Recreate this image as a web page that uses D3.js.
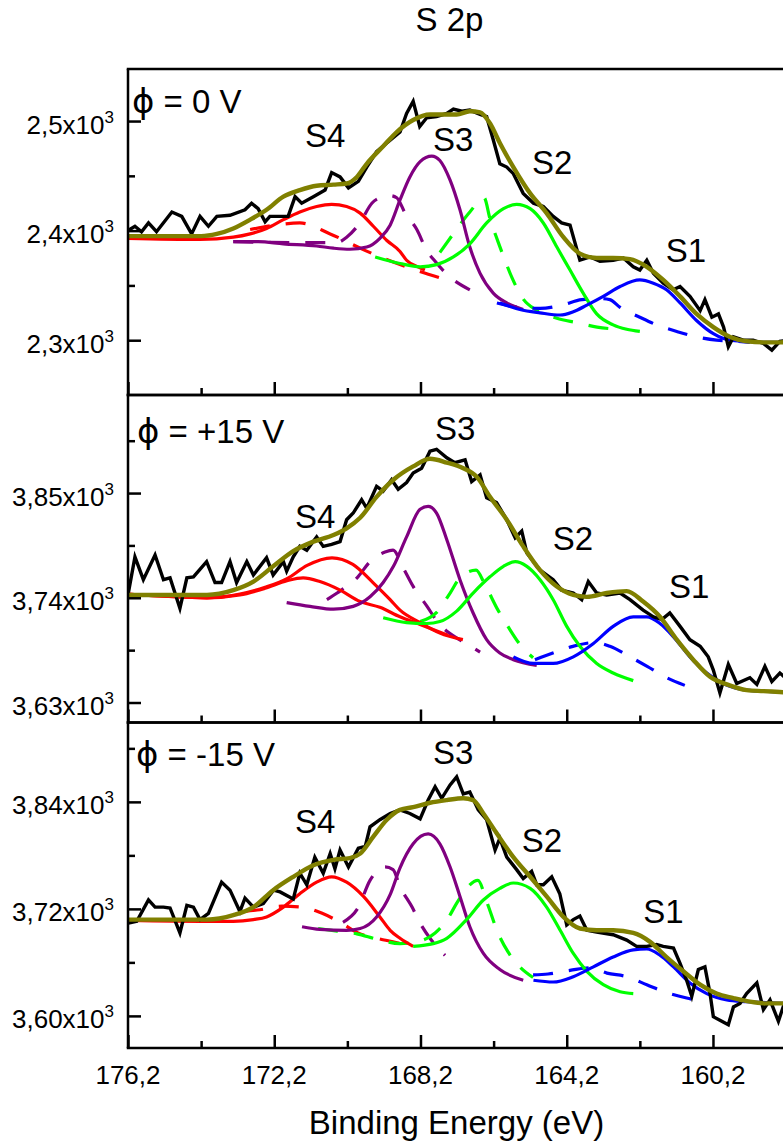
<!DOCTYPE html>
<html>
<head>
<meta charset="utf-8">
<script src="https://cdn.jsdelivr.net/npm/d3@7"></script>
<style>
  html, body { margin: 0; padding: 0; background: #fff; }
  svg { display: block; }
  text { font-family: "Liberation Sans", Arial, Helvetica, "DejaVu Sans", sans-serif; fill: #000; }
</style>
</head>
<body>
<svg id="chart" width="783" height="1145"></svg>
<script>
// ---------- S 2p spectra: [binding energy (eV), counts] ----------

// phi = 0 V
const spectrum0V = [[176.2,2400],[176.01,2404],[175.83,2399],[175.64,2407],[175.42,2399],[175.0,2417],[174.73,2413],[174.46,2397],[174.23,2413],[174.0,2404],[173.77,2413],[173.41,2414],[173.0,2419],[172.82,2425],[172.64,2420],[172.45,2408],[172.32,2413],[172.04,2413],[171.82,2413],[171.63,2431],[171.45,2425],[171.13,2431],[170.81,2437],[170.63,2453],[170.4,2449],[170.17,2439],[169.9,2445],[169.67,2458],[169.4,2472],[169.12,2480],[168.76,2490],[168.58,2507],[168.4,2518],[168.22,2495],[168.03,2503],[167.76,2504],[167.48,2507],[167.3,2511],[167.07,2509],[166.85,2510],[166.57,2506],[166.39,2504],[166.21,2483],[166.03,2461],[165.84,2458],[165.66,2452],[165.39,2434],[165.11,2425],[164.84,2422],[164.57,2413],[164.34,2407],[164.11,2405],[163.84,2373],[163.56,2376],[163.29,2372],[162.93,2373],[162.65,2375],[162.38,2367],[162.2,2364],[162.01,2373],[161.83,2361],[161.56,2352],[161.29,2346],[161.1,2349],[160.83,2340],[160.55,2327],[160.42,2337],[160.23,2321],[160.05,2324],[159.91,2312],[159.78,2294],[159.64,2303],[159.37,2300],[159.1,2300],[158.82,2297],[158.59,2291],[158.37,2299],[158.1,2300]];
const envelope0V = [[176.2,2395],[174.2,2395],[173.77,2397],[173.32,2402],[172.86,2410],[172.41,2419],[171.95,2431],[171.5,2437],[171.04,2441],[170.58,2442],[170.22,2443],[169.94,2449],[169.67,2461],[169.22,2477],[168.85,2490],[168.4,2501],[167.94,2506],[167.48,2506],[167.21,2506],[166.85,2509],[166.57,2508],[166.3,2498],[166.03,2480],[165.66,2458],[165.2,2434],[164.75,2416],[164.29,2394],[163.84,2379],[163.38,2375],[162.93,2375],[162.47,2374],[162.01,2367],[161.56,2355],[161.1,2340],[160.65,2324],[160.19,2312],[159.73,2303],[159.28,2299],[158.82,2298],[158.37,2298],[157.96,2299]];
const s4Fit0V = [[176.2,2393],[174.23,2392],[173.32,2394],[172.86,2397],[172.41,2402],[171.95,2410],[171.5,2417],[171.04,2422],[170.63,2424],[170.22,2422],[169.85,2416],[169.49,2404],[169.12,2391],[168.76,2381],[168.58,2373],[168.21,2366],[168.08,2364]];
const s4Base0V = [[172.86,2401],[172.18,2405],[171.5,2407],[170.67,2397],[169.72,2382],[168.76,2369],[167.58,2356]];
const s3Fit0V = [[173.32,2390],[172.64,2390],[171.95,2388],[171.04,2386],[170.58,2384],[170.13,2383],[169.67,2385],[169.31,2393],[169.03,2405],[168.76,2428],[168.49,2449],[168.21,2463],[167.89,2468],[167.67,2464],[167.39,2446],[167.12,2419],[166.85,2385],[166.57,2361],[166.21,2343],[165.84,2334],[165.39,2328]];
const s3Base0V = [[173.32,2390],[171.5,2389],[170.5,2389],[170.22,2394],[169.86,2407],[169.53,2425],[169.2,2431],[169.03,2432],[168.85,2430],[168.62,2416],[168.3,2401],[168.03,2382],[167.8,2372],[167.44,2359],[166.85,2346]];
const s2Fit0V = [[169.44,2376],[168.76,2370],[168.21,2367],[167.76,2369],[167.3,2376],[166.85,2388],[166.39,2407],[165.93,2420],[165.57,2424],[165.2,2420],[164.84,2407],[164.47,2385],[164.11,2364],[163.75,2343],[163.38,2324],[162.93,2314],[162.56,2310],[162.2,2308]];
const s2Base0V = [[167.67,2380],[167.26,2399],[166.85,2417],[166.46,2430],[166.3,2411],[166.08,2390],[165.89,2373],[165.67,2355],[165.42,2339],[165.01,2327],[164.47,2320],[163.92,2316],[163.37,2312],[162.83,2310]];
const s1Fit0V = [[166.03,2334],[165.48,2328],[164.93,2325],[164.38,2323],[164.02,2326],[163.65,2332],[163.2,2340],[162.74,2349],[162.2,2355],[161.83,2352],[161.47,2346],[161.1,2334],[160.65,2318],[160.19,2306],[159.73,2300],[159.28,2299],[158.82,2298],[158.09,2298]];
const s1Base0V = [[166.11,2334],[165.48,2330],[164.93,2329],[164.34,2332],[163.79,2337],[163.29,2338],[163.02,2337],[162.74,2330],[162.2,2321],[161.74,2314],[161.19,2308],[160.65,2303],[160.1,2300],[159.55,2299],[159.19,2298]];

// phi = +15 V
const spectrumP15 = [[176.19,3745],[176.01,3783],[175.78,3759],[175.46,3785],[175.23,3759],[175.05,3761],[174.78,3729],[174.59,3761],[174.41,3762],[174.05,3778],[173.82,3756],[173.64,3756],[173.41,3778],[173.23,3756],[172.95,3778],[172.77,3764],[172.41,3782],[172.23,3764],[171.95,3778],[171.86,3768],[171.68,3783],[171.5,3794],[171.31,3790],[171.04,3804],[170.86,3794],[170.63,3796],[170.4,3799],[170.22,3822],[170.04,3829],[169.81,3843],[169.67,3834],[169.4,3857],[169.22,3852],[168.99,3864],[168.81,3854],[168.58,3861],[168.4,3871],[168.17,3876],[167.94,3894],[167.76,3896],[167.48,3887],[167.26,3882],[166.98,3885],[166.8,3862],[166.57,3869],[166.39,3845],[166.12,3840],[165.84,3822],[165.61,3803],[165.43,3810],[165.29,3787],[164.93,3769],[164.57,3759],[164.34,3748],[164.02,3745],[163.79,3738],[163.61,3757],[163.38,3745],[163.11,3743],[162.74,3745],[162.47,3738],[162.11,3727],[161.83,3720],[161.6,3717],[161.38,3724],[161.1,3710],[160.83,3696],[160.55,3689],[160.33,3678],[160.19,3664],[160.01,3640],[159.78,3670],[159.55,3650],[159.19,3656],[159.0,3649],[158.78,3668],[158.59,3652],[158.37,3661],[158.1,3652]];
const envelopeP15 = [[176.2,3743],[174.04,3743],[173.32,3748],[172.77,3757],[172.23,3773],[171.68,3789],[171.13,3799],[170.58,3806],[170.22,3813],[169.85,3824],[169.4,3846],[168.94,3864],[168.4,3878],[167.94,3886],[167.48,3882],[167.03,3876],[166.66,3867],[166.3,3846],[165.84,3822],[165.39,3794],[164.93,3769],[164.48,3752],[164.02,3743],[163.65,3741],[163.11,3745],[162.56,3747],[162.11,3736],[161.65,3720],[161.19,3696],[160.74,3675],[160.28,3657],[159.82,3649],[159.28,3643],[158.82,3642],[158.37,3641],[157.96,3640]];
const s4FitP15 = [[176.2,3744],[174.04,3740],[173.14,3744],[172.45,3751],[171.85,3760],[171.3,3774],[170.62,3782],[170.05,3775],[169.5,3756],[169.03,3738],[168.76,3727],[168.21,3714],[167.67,3703],[167.04,3696]];
const s4bFitP15 = [[176.2,3744],[174.04,3740],[173.14,3743],[172.45,3750],[171.85,3758],[171.41,3761],[170.95,3757],[170.4,3748],[169.85,3736],[169.31,3730],[168.76,3720],[168.21,3712],[167.47,3701]];
const s3FitP15 = [[171.86,3735],[171.22,3731],[170.58,3728],[170.04,3731],[169.58,3741],[169.22,3756],[168.94,3773],[168.58,3804],[168.21,3833],[167.99,3836],[167.76,3829],[167.48,3801],[167.12,3759],[166.76,3724],[166.39,3696],[166.03,3682],[165.66,3675],[165.02,3669]];
const s3BaseP15 = [[170.76,3738],[170.48,3745],[169.91,3762],[169.58,3778],[169.17,3788],[168.95,3790],[168.68,3772],[168.4,3752],[168.02,3731],[167.72,3714],[167.45,3704],[166.9,3691],[166.57,3683]];
const s2FitP15 = [[169.22,3719],[168.58,3714],[168.03,3713],[167.67,3715],[167.21,3726],[166.76,3745],[166.3,3762],[165.93,3773],[165.61,3778],[165.29,3773],[164.93,3759],[164.57,3738],[164.2,3710],[163.84,3689],[163.38,3671],[162.93,3661],[162.38,3653]];
const s2BaseP15 = [[168.21,3715],[167.75,3725],[167.39,3745],[167.12,3761],[166.68,3769],[166.44,3754],[166.08,3727],[165.81,3710],[165.48,3691],[165.12,3677]];
const s1FitP15 = [[165.66,3678],[165.11,3671],[164.57,3671],[164.02,3678],[163.47,3692],[162.93,3710],[162.38,3720],[162.01,3720],[161.65,3713],[161.28,3699],[160.83,3678],[160.37,3661],[159.92,3650],[159.28,3643],[158.37,3641],[157.96,3640]];
const s1BaseP15 = [[165.07,3675],[164.58,3682],[164.03,3689],[163.43,3693],[163.02,3689],[162.47,3678],[162.0,3668],[161.46,3656],[160.97,3648]];

// phi = -15 V
const spectrumM15 = [[176.19,3704],[175.96,3706],[175.64,3730],[175.46,3722],[175.23,3722],[175.05,3721],[174.78,3693],[174.59,3724],[174.41,3722],[174.23,3708],[174.0,3715],[173.64,3750],[173.41,3741],[173.14,3717],[173.0,3732],[172.77,3722],[172.5,3726],[172.22,3741],[172.04,3739],[171.68,3731],[171.5,3760],[171.31,3747],[171.09,3778],[170.86,3760],[170.67,3782],[170.54,3765],[170.4,3786],[170.17,3767],[169.9,3788],[169.71,3790],[169.58,3812],[169.31,3820],[169.03,3827],[168.76,3831],[168.49,3827],[168.21,3821],[167.99,3842],[167.8,3857],[167.62,3844],[167.39,3859],[167.21,3868],[167.03,3849],[166.85,3851],[166.62,3831],[166.39,3820],[166.16,3786],[166.03,3799],[165.84,3778],[165.57,3764],[165.39,3754],[165.16,3762],[165.02,3747],[164.84,3747],[164.61,3756],[164.39,3737],[164.2,3702],[164.02,3708],[163.84,3712],[163.65,3696],[163.38,3694],[162.93,3691],[162.56,3685],[162.29,3678],[162.01,3678],[161.74,3680],[161.56,3678],[161.28,3676],[161.1,3659],[160.92,3640],[160.78,3622],[160.6,3652],[160.42,3655],[160.28,3625],[160.19,3599],[160.01,3595],[159.78,3590],[159.64,3610],[159.46,3614],[159.28,3625],[159.0,3637],[158.82,3607],[158.64,3618],[158.41,3594],[158.28,3610],[158.1,3600]];
const envelopeM15 = [[176.2,3708],[174.04,3708],[173.32,3713],[172.77,3722],[172.23,3741],[171.68,3756],[171.13,3769],[170.58,3775],[170.13,3777],[169.85,3782],[169.49,3801],[169.12,3820],[168.76,3831],[168.4,3834],[167.94,3839],[167.48,3842],[167.03,3844],[166.76,3842],[166.48,3827],[166.12,3805],[165.66,3778],[165.2,3756],[164.75,3734],[164.29,3711],[163.84,3698],[163.38,3696],[162.93,3696],[162.38,3693],[161.92,3683],[161.47,3666],[161.01,3650],[160.55,3635],[160.1,3625],[159.64,3620],[159.19,3616],[158.73,3614],[158.28,3614],[157.96,3613]];
const s4FitM15 = [[176.2,3707],[174.05,3706],[173.32,3706],[172.77,3708],[172.41,3711],[171.95,3722],[171.5,3737],[171.04,3750],[170.63,3756],[170.22,3750],[169.76,3734],[169.31,3711],[169.03,3696],[168.76,3687],[168.4,3678]];
const s4BaseM15 = [[173.05,3717],[172.59,3719],[171.99,3723],[171.44,3722],[170.89,3715],[170.4,3705],[169.91,3693],[169.39,3687],[168.84,3682],[168.4,3677]];
const s3FitM15 = [[171.44,3700],[170.95,3697],[170.22,3696],[169.85,3698],[169.4,3711],[169.03,3736],[168.76,3766],[168.4,3793],[167.99,3804],[167.67,3793],[167.39,3767],[167.12,3734],[166.85,3700],[166.48,3670],[166.03,3652],[165.39,3640]];
const s3BaseM15 = [[170.32,3705],[169.91,3721],[169.58,3752],[169.17,3767],[168.95,3764],[168.76,3745],[168.43,3722],[168.21,3704],[167.94,3687],[167.53,3668]];
const s2FitM15 = [[168.4,3678],[167.85,3681],[167.48,3687],[166.94,3708],[166.48,3730],[166.03,3743],[165.66,3749],[165.2,3743],[164.75,3722],[164.38,3696],[164.02,3670],[163.65,3650],[163.2,3635],[162.74,3627],[162.38,3625]];
const s2BaseM15 = [[171.0,3698],[170.48,3695],[169.94,3692],[169.39,3686],[168.76,3681],[168.21,3684],[167.8,3693],[167.47,3708],[167.2,3727],[166.9,3745],[166.63,3752],[166.38,3727],[166.08,3693],[165.81,3672],[165.53,3657],[165.12,3643]];
const s1FitM15 = [[165.11,3640],[164.57,3638],[164.02,3644],[163.47,3655],[162.93,3666],[162.38,3674],[162.01,3675],[161.65,3668],[161.28,3655],[160.83,3637],[160.37,3625],[159.82,3618],[159.28,3616],[158.28,3614],[157.96,3613]];
const s1BaseM15 = [[165.12,3646],[164.71,3647],[164.11,3651],[163.56,3654],[163.1,3648],[162.56,3644],[162.01,3635],[161.46,3626],[160.92,3620],[160.42,3616]];

// Axis extents and tick values
const energyDomain = [176.2, 158.0];
const energyMajorTicks = [176.2, 172.2, 168.2, 164.2, 160.2];
const energyMinorTicks = [174.2, 170.2, 166.2, 162.2, 158.2];

const countDomain0V = [2250, 2547.5];
const countMajor0V = [2300, 2400, 2500];
const countMinor0V = [2350, 2450];
const countDomainP15 = [3609, 3953];
const countMajorP15 = [3630, 3740, 3850];
const countMinorP15 = [3685, 3795, 3905];
const countDomainM15 = [3564, 3929];
const countMajorM15 = [3600, 3720, 3840];
const countMinorM15 = [3660, 3780, 3900];

const biasValues = ["= 0 V", "= +15 V", "= -15 V"];
const peakNames = ["S1", "S2", "S3", "S4"];
// anchor (energy, counts) of each peak name, S1..S4
const peakLabelAt0V  = [[161.49,2371],[165.15,2452],[167.86,2473],[171.36,2476]];
const peakLabelAtP15 = [[161.40,3740],[164.58,3790],[167.80,3906],[171.63,3813]];
const peakLabelAtM15 = [[162.11,3704],[165.43,3784],[167.86,3883],[171.63,3805]];

// ---------- layout ----------
const COLORS = { red: "#ff0000", purple: "#800080", green: "#00ff00", blue: "#0000ff", olive: "#808000" };
const plotLeft = 128, plotRight = 793.4;
const panelEdges = [[69, 395], [395, 722.5], [722.5, 1048]];

const panels = [
  { domain: countDomain0V, major: countMajor0V, minor: countMinor0V, decimals: 1,
    spectrum: spectrum0V, envelope: envelope0V, bias: biasValues[0], labelX: 132, labelDy: 44,
    peakLabels: peakLabelAt0V,
    bases: [[s4Base0V, COLORS.red], [s3Base0V, COLORS.purple], [s2Base0V, COLORS.green], [s1Base0V, COLORS.blue]],
    fits: [[s4Fit0V, COLORS.red], [s3Fit0V, COLORS.purple], [s2Fit0V, COLORS.green], [s1Fit0V, COLORS.blue]] },
  { domain: countDomainP15, major: countMajorP15, minor: countMinorP15, decimals: 2,
    spectrum: spectrumP15, envelope: envelopeP15, bias: biasValues[1], labelX: 137, labelDy: 48,
    peakLabels: peakLabelAtP15,
    bases: [[s3BaseP15, COLORS.purple], [s2BaseP15, COLORS.green], [s1BaseP15, COLORS.blue]],
    fits: [[s4bFitP15, COLORS.red], [s4FitP15, COLORS.red], [s3FitP15, COLORS.purple], [s2FitP15, COLORS.green], [s1FitP15, COLORS.blue]] },
  { domain: countDomainM15, major: countMajorM15, minor: countMinorM15, decimals: 2,
    spectrum: spectrumM15, envelope: envelopeM15, bias: biasValues[2], labelX: 136, labelDy: 43,
    peakLabels: peakLabelAtM15,
    bases: [[s4BaseM15, COLORS.red], [s3BaseM15, COLORS.purple], [s2BaseM15, COLORS.green], [s1BaseM15, COLORS.blue]],
    fits: [[s4FitM15, COLORS.red], [s3FitM15, COLORS.purple], [s2FitM15, COLORS.green], [s1FitM15, COLORS.blue]] }
];

const svg = d3.select("#chart");
const x = d3.scaleLinear().domain(energyDomain).range([plotLeft, plotRight]);
const fmtEnergy = d => d.toFixed(1).replace(".", ",");

const defs = svg.append("defs");

panels.forEach((p, i) => {
  const [top, bottom] = panelEdges[i];
  const y = d3.scaleLinear().domain(p.domain).range([bottom, top]);
  const g = svg.append("g").attr("class", "panel");

  defs.append("clipPath").attr("id", "clip" + i)
    .append("rect").attr("x", plotLeft).attr("y", top)
    .attr("width", plotRight - plotLeft).attr("height", bottom - top);

  const smooth = d3.line().x(d => x(d[0])).y(d => y(d[1])).curve(d3.curveMonotoneX);
  const raw = d3.line().x(d => x(d[0])).y(d => y(d[1]));

  const plot = g.append("g").attr("clip-path", `url(#clip${i})`);

  // component backgrounds (dashed)
  plot.selectAll("path.base").data(p.bases).join("path")
    .attr("class", "base")
    .attr("d", d => smooth(d[0]))
    .attr("fill", "none").attr("stroke", d => d[1])
    .attr("stroke-width", 3.2).attr("stroke-dasharray", "20,16");

  // fitted components
  plot.selectAll("path.fit").data(p.fits).join("path")
    .attr("class", "fit")
    .attr("d", d => smooth(d[0]))
    .attr("fill", "none").attr("stroke", d => d[1])
    .attr("stroke-width", 3.2).attr("stroke-linejoin", "round");

  // measured spectrum
  plot.append("path").datum(p.spectrum)
    .attr("d", raw).attr("fill", "none").attr("stroke", "#000")
    .attr("stroke-width", 3.4).attr("stroke-linejoin", "miter");

  // fit envelope
  plot.append("path").datum(p.envelope)
    .attr("d", smooth).attr("fill", "none").attr("stroke", COLORS.olive)
    .attr("stroke-width", 4.4).attr("stroke-linecap", "round");

  // y axis ticks (inward)
  const yMajor = d3.axisLeft(y).tickValues(p.major).tickSize(-13).tickFormat("");
  const yMinor = d3.axisLeft(y).tickValues(p.minor).tickSize(-7).tickFormat("");
  [yMajor, yMinor].forEach(ax => {
    const a = g.append("g").attr("transform", `translate(${plotLeft},0)`).call(ax);
    a.select(".domain").remove();
    a.selectAll("line").attr("stroke", "#000").attr("stroke-width", 2.5);
  });

  // y tick labels with superscript exponent
  p.major.forEach(v => {
    const t = g.append("text")
      .attr("x", 114).attr("y", y(v) + 12.5)
      .attr("text-anchor", "end").attr("font-size", 26);
    t.append("tspan").text((v / 1000).toFixed(p.decimals).replace(".", ",") + "x10");
    t.append("tspan").attr("font-size", 17).attr("dy", -11).text("3");
  });

  // x axis ticks (inward) at bottom edge of each panel
  const xMajor = d3.axisBottom(x).tickValues(energyMajorTicks).tickSize(-13).tickFormat("");
  const xMinor = d3.axisBottom(x).tickValues(energyMinorTicks).tickSize(-7).tickFormat("");
  [xMajor, xMinor].forEach(ax => {
    const a = g.append("g").attr("transform", `translate(0,${bottom})`).call(ax);
    a.select(".domain").remove();
    a.selectAll("line").attr("stroke", "#000").attr("stroke-width", 2.5);
  });

  // bias label: stroked phi symbol followed by the value
  const lab = g.append("text").attr("x", p.labelX).attr("y", top + p.labelDy).attr("font-size", 33);
  lab.append("tspan").style("font-family", "'DejaVu Sans', sans-serif").attr("font-size", 34).text("\u03d5");
  lab.append("tspan").text(" " + p.bias);

  // peak names
  p.peakLabels.forEach((pos, k) => {
    g.append("text").attr("x", x(pos[0])).attr("y", y(pos[1]))
      .attr("font-size", 33).text(peakNames[k]);
  });

  // panel frame lines
  const frame = [[plotLeft - 1.25, top, plotRight, top], [plotLeft - 1.25, bottom, plotRight, bottom],
                 [plotLeft, top, plotLeft, bottom], [plotRight, top, plotRight, bottom]];
  g.selectAll("line.frame").data(frame).join("line").attr("class", "frame")
    .attr("x1", d => d[0]).attr("y1", d => d[1]).attr("x2", d => d[2]).attr("y2", d => d[3])
    .attr("stroke", "#000").attr("stroke-width", 2.5);
});

// energy tick labels under the bottom panel
svg.append("g").selectAll("text").data(energyMajorTicks).join("text")
  .attr("x", d => x(d)).attr("y", 1083.5)
  .attr("text-anchor", "middle").attr("font-size", 26)
  .text(fmtEnergy);

// titles
svg.append("text").attr("x", 449.5).attr("y", 31)
  .attr("text-anchor", "middle").attr("font-size", 33).text("S 2p");
svg.append("text").attr("x", 456.5).attr("y", 1134)
  .attr("text-anchor", "middle").attr("font-size", 33).text("Binding Energy (eV)");
</script>
